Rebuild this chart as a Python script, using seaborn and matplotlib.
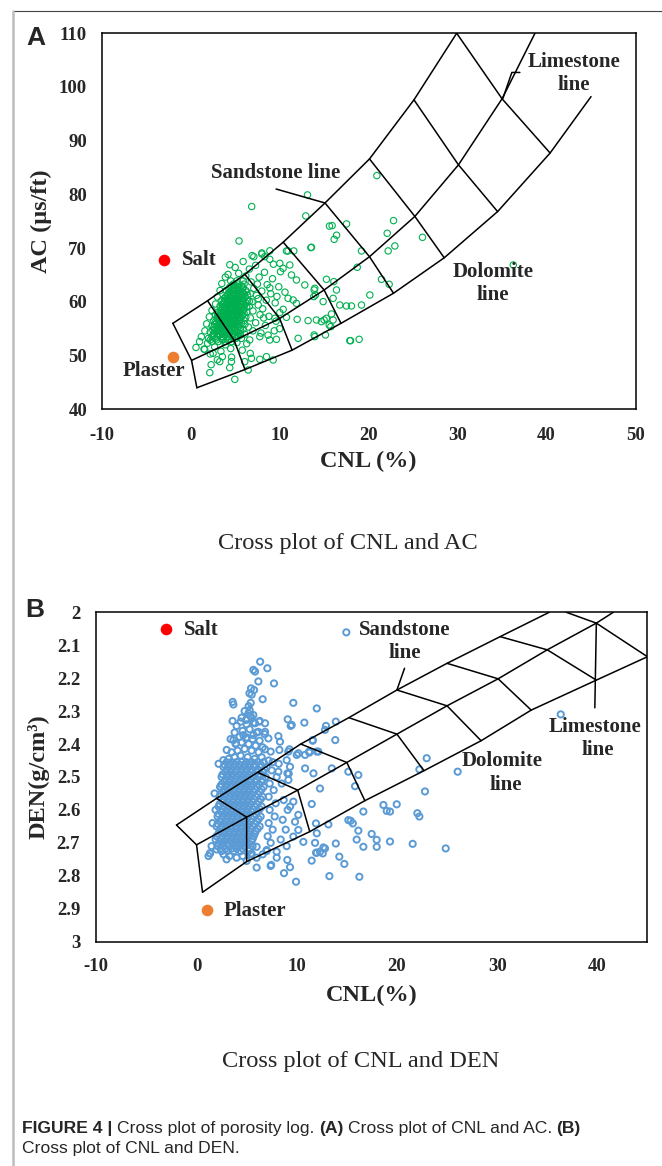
import matplotlib
matplotlib.use('Agg')
import matplotlib.pyplot as plt
from matplotlib.markers import MarkerStyle
from matplotlib.lines import Line2D
import seaborn as sns
import pandas as pd

# ---------------- panel A : CNL vs AC ----------------
# framework lines (x = CNL, y = AC), one point per 5 % porosity step
sand_a_x = [-2.0, 1.9, 6.1, 10.4, 15.1, 20.1, 25.1, 29.9]
sand_a_y = [56.0, 60.2, 65.1, 71.1, 78.4, 86.6, 97.6, 110.0]
lime_a_x = [0.1, 4.9, 10.0, 15.0, 20.1, 25.2, 30.1, 35.0, 38.7]
lime_a_y = [49.1, 52.8, 56.9, 62.2, 68.4, 75.9, 85.5, 97.8, 110.0]
dolo_a_x = [0.7, 6.1, 11.4, 16.9, 22.8, 28.5, 34.5, 40.4, 45.0]
dolo_a_y = [44.0, 47.4, 51.0, 56.0, 61.6, 68.2, 76.8, 87.7, 98.2]

# dense core of the green cloud: (AC, [CNL values])
ac_core_rows = [
    (52.6, [2.4, 3.1, 3.9, 4.6]),
    (52.9, [2.2, 2.9, 3.6, 4.2]),
    (53.2, [2.0, 2.8, 3.5, 4.3, 5.1]),
    (53.5, [2.4, 3.0, 3.6, 4.1, 4.7, 5.3]),
    (53.8, [2.5, 3.2, 3.8, 4.4, 5.0, 5.6]),
    (54.1, [2.6, 3.1, 3.6, 4.2, 4.8, 5.4]),
    (54.4, [2.2, 2.9, 3.4, 3.9, 4.5, 5.2]),
    (54.7, [2.5, 3.0, 3.5, 4.0, 4.4, 5.0, 5.6]),
    (54.9, [2.7, 3.2, 3.7, 4.1, 4.6, 5.3, 5.9]),
    (55.2, [2.6, 3.1, 3.5, 3.9, 4.4, 4.9, 5.6]),
    (55.5, [2.4, 3.0, 3.5, 3.9, 4.3, 4.8, 5.4]),
    (55.8, [2.7, 3.2, 3.6, 4.1, 4.5, 4.8, 5.3, 6.1]),
    (56.0, [2.9, 3.3, 3.8, 4.2, 4.6, 5.0, 5.7]),
    (56.3, [2.8, 3.4, 3.8, 4.2, 4.6, 5.1, 5.5]),
    (56.5, [2.6, 3.2, 3.6, 4.0, 4.4, 4.8, 5.3, 6.0]),
    (56.8, [3.0, 3.4, 3.8, 4.2, 4.6, 5.1, 5.6]),
    (57.1, [3.0, 3.5, 3.9, 4.3, 4.7, 5.1, 5.5, 6.2]),
    (57.4, [3.2, 3.7, 4.1, 4.5, 4.9, 5.3, 5.8]),
    (57.6, [2.8, 3.3, 3.7, 4.1, 4.5, 4.9, 5.3, 5.8]),
    (57.9, [3.0, 3.5, 3.9, 4.3, 4.7, 5.1, 5.5, 6.0]),
    (58.1, [3.1, 3.6, 4.0, 4.4, 4.8, 5.2, 5.6, 6.3]),
    (58.4, [3.4, 3.8, 4.2, 4.6, 5.0, 5.4, 5.9]),
    (58.7, [3.5, 3.9, 4.3, 4.7, 5.1, 5.5, 6.0]),
    (59.0, [3.6, 4.0, 4.4, 4.8, 5.3, 5.7, 6.3]),
    (59.2, [3.3, 3.8, 4.2, 4.6, 5.0, 5.4, 5.9, 6.6]),
    (59.5, [3.6, 4.0, 4.4, 4.8, 5.2, 5.6, 6.1]),
    (59.8, [3.7, 4.1, 4.5, 4.9, 5.3, 5.7, 6.2]),
    (60.1, [3.8, 4.3, 4.7, 5.1, 5.5, 5.9, 6.6]),
    (60.3, [3.5, 4.0, 4.4, 4.8, 5.2, 5.7, 6.4]),
    (60.6, [3.8, 4.2, 4.6, 5.0, 5.4, 5.9]),
    (60.9, [3.9, 4.4, 4.8, 5.2, 5.6, 6.1]),
    (61.2, [4.1, 4.6, 5.0, 5.4, 5.8, 6.4]),
    (61.5, [4.2, 4.7, 5.1, 5.5, 6.0, 6.7]),
    (61.8, [4.4, 4.9, 5.3, 5.8, 6.3]),
    (62.1, [4.0, 4.6, 5.0, 5.5, 6.2]),
    (62.4, [4.3, 4.8, 5.3, 5.8]),
    (62.7, [4.4, 4.9, 5.4, 5.9]),
    (63.0, [4.6, 5.1, 5.7]),
    (63.3, [4.8, 5.3, 6.0]),
    (63.9, [4.5, 5.2, 5.9]),
]

# looser points around the core
ac_halo = [
    (1.5, 51.2), (1.9, 52.3), (2.2, 50.3), (2.7, 51.6), (3.4, 50.8), (3.9, 52.0),
    (4.5, 51.3), (5.2, 52.4), (5.8, 51.0), (6.3, 52.2), (1.2, 53.5), (1.6, 54.6),
    (1.8, 55.9), (2.1, 57.2), (2.4, 58.4), (2.8, 59.6), (3.0, 60.9), (3.3, 62.1),
    (3.5, 63.4), (3.9, 64.6), (4.2, 65.1), (5.4, 65.3), (6.2, 64.8), (6.8, 63.7),
    (7.1, 62.5), (7.4, 61.2), (6.9, 60.0), (7.6, 59.4), (7.0, 58.3), (7.8, 57.6),
    (6.7, 57.0), (7.3, 56.1), (6.5, 55.3), (7.0, 54.6), (6.1, 54.0), (5.7, 53.2),
    (8.1, 58.7), (8.5, 60.3), (8.0, 62.0), (8.6, 63.2), (7.7, 64.6), (6.6, 66.1),
    (7.3, 66.8), (8.3, 65.5), (9.2, 64.3), (9.0, 61.5), (9.5, 59.8), (8.8, 57.3),
    (9.6, 56.4), (8.4, 55.6), (7.9, 54.2), (8.7, 53.8), (5.0, 66.4), (4.4, 66.9),
    (5.9, 67.5), (6.9, 68.6), (8.0, 68.9), (9.3, 67.0), (10.1, 65.6), (9.9, 62.8),
    (10.6, 61.8), (10.4, 58.6), (10.0, 55.0), (9.4, 54.6), (1.0, 52.6), (0.6, 51.5),
    (3.0, 49.2), (2.3, 48.3), (4.6, 49.7), (6.7, 50.4), (7.1, 68.4), (8.0, 69.1),
    (8.9, 69.5), (7.5, 63.3), (8.9, 62.6), (9.7, 61.0), (7.6, 60.6), (8.2, 57.0),
]

# isolated points
ac_sparse = [
    (5.44, 71.33), (16.13, 71.64), (13.58, 70.15), (10.95, 69.47), (8.33, 68.41),
    (8.89, 67.92), (10.02, 67.17), (11.14, 66.86), (10.39, 66.24), (11.33, 65.0),
    (11.89, 64.07), (12.83, 63.14), (13.95, 62.52), (15.26, 64.19), (16.09, 63.76),
    (16.39, 62.21), (13.84, 60.97), (14.89, 60.04), (16.01, 60.65), (11.52, 60.34),
    (11.89, 59.72), (10.95, 60.65), (20.14, 61.27), (19.2, 59.41), (16.76, 59.41),
    (17.51, 59.23), (18.07, 59.23), (14.14, 56.62), (13.2, 56.5), (15.26, 56.93),
    (16.01, 56.62), (11.97, 56.74), (10.02, 57.99), (10.77, 57.12), (9.46, 56.93),
    (12.08, 53.21), (9.64, 53.02), (8.89, 52.9), (7.77, 53.52), (6.64, 52.9),
    (17.89, 52.77), (18.94, 53.02), (13.95, 53.52), (2.15, 46.81), (4.39, 47.74),
    (4.96, 45.57), (6.46, 47.31), (7.77, 49.3), (8.52, 49.79), (9.27, 49.17),
    (1.58, 51.16), (2.52, 50.41), (3.57, 49.79), (3.27, 48.86), (4.58, 48.86),
    (6.08, 48.86), (6.83, 49.48), (13.13, 79.9), (12.94, 75.99), (15.9, 74.19),
    (17.52, 74.5), (22.8, 75.12), (22.09, 72.76), (22.2, 69.47), (22.95, 70.4),
    (26.06, 72.01), (13.51, 70.09), (19.2, 69.47), (18.72, 66.43), (21.45, 64.19),
    (22.31, 63.26), (15.83, 57.74), (15.0, 56.62), (13.88, 62.21), (14.03, 61.27),
    (14.7, 56.31), (15.57, 55.69), (13.88, 53.83), (15.15, 53.83), (15.75, 55.38),
    (17.97, 52.77), (36.26, 66.86), (10.77, 69.47), (11.59, 69.47), (20.93, 83.5),
    (6.86, 77.74), (15.6, 74.1), (16.4, 72.4),
]

# ---------------- panel B : CNL vs DEN ----------------
sand_b_x = [-2.0, 2.0, 6.1, 10.4, 15.2, 20.0, 25.0, 30.3, 35.2]
sand_b_y = [2.646, 2.565, 2.486, 2.400, 2.320, 2.236, 2.155, 2.074, 2.000]
lime_b_x = [0.0, 5.0, 10.1, 15.0, 20.0, 25.0, 30.1, 35.0, 39.9, 41.6]
lime_b_y = [2.706, 2.622, 2.540, 2.456, 2.370, 2.284, 2.202, 2.114, 2.033, 2.000]
dolo_b_x = [0.6, 5.0, 11.3, 16.8, 22.7, 28.4, 33.4, 39.9, 45.0]
dolo_b_y = [2.850, 2.757, 2.666, 2.572, 2.481, 2.390, 2.297, 2.206, 2.135]
# last porosity step starts above the top edge
sand_b_edge = (36.9, 2.000)

den_core_rows = [
    (2.455, [3.0, 3.5, 4.0, 4.5, 5.0, 5.5, 6.1, 6.7]),
    (2.4625, [2.8, 3.3, 3.8, 4.3, 4.8, 5.3, 5.8, 6.4]),
    (2.470, [2.7, 3.2, 3.7, 4.2, 4.7, 5.2, 5.8, 6.4, 7.0]),
    (2.4775, [3.0, 3.5, 4.0, 4.5, 5.0, 5.5, 6.1, 6.8]),
    (2.485, [2.9, 3.4, 3.9, 4.4, 4.9, 5.4, 6.0, 6.6]),
    (2.4925, [2.6, 3.1, 3.6, 4.2, 4.7, 5.2, 5.7, 6.3]),
    (2.500, [2.5, 3.0, 3.5, 4.0, 4.5, 5.0, 5.6, 6.2, 6.9]),
    (2.5075, [2.9, 3.4, 3.9, 4.4, 4.9, 5.4, 6.0, 6.6]),
    (2.515, [2.8, 3.3, 3.8, 4.3, 4.8, 5.3, 5.9, 6.5]),
    (2.5225, [2.5, 3.0, 3.6, 4.1, 4.6, 5.1, 5.6, 6.2]),
    (2.530, [2.4, 2.9, 3.4, 3.9, 4.4, 4.9, 5.4, 6.0, 6.7]),
    (2.5375, [2.8, 3.3, 3.8, 4.3, 4.8, 5.3, 5.8, 6.5]),
    (2.545, [2.7, 3.2, 3.7, 4.2, 4.7, 5.2, 5.7, 6.3]),
    (2.5525, [2.4, 2.9, 3.5, 4.0, 4.5, 5.0, 5.5, 6.1]),
    (2.560, [2.3, 2.8, 3.3, 3.8, 4.3, 4.8, 5.3, 5.9, 6.6]),
    (2.5675, [2.7, 3.2, 3.7, 4.2, 4.7, 5.2, 5.7, 6.4]),
    (2.575, [2.6, 3.1, 3.6, 4.1, 4.6, 5.1, 5.6, 6.2]),
    (2.5825, [2.3, 2.9, 3.4, 3.9, 4.4, 4.9, 5.4, 6.0]),
    (2.590, [2.2, 2.7, 3.2, 3.7, 4.2, 4.7, 5.2, 5.8, 6.5]),
    (2.5975, [2.6, 3.1, 3.6, 4.1, 4.6, 5.1, 5.6, 6.3]),
    (2.605, [2.5, 3.0, 3.5, 4.0, 4.5, 5.0, 5.5, 6.1]),
    (2.6125, [2.2, 2.8, 3.3, 3.8, 4.3, 4.8, 5.3, 5.9]),
    (2.620, [2.1, 2.6, 3.1, 3.6, 4.1, 4.6, 5.1, 5.7, 6.4]),
    (2.6275, [2.5, 3.0, 3.5, 4.0, 4.5, 5.0, 5.5, 6.2]),
    (2.635, [2.4, 2.9, 3.4, 3.9, 4.4, 4.9, 5.4, 6.0]),
    (2.6425, [2.1, 2.7, 3.2, 3.7, 4.2, 4.7, 5.2, 5.8]),
    (2.650, [2.0, 2.5, 3.0, 3.5, 4.0, 4.5, 5.0, 5.6, 6.3]),
    (2.6575, [2.4, 2.9, 3.4, 3.9, 4.4, 4.9, 5.4, 6.1]),
    (2.665, [2.3, 2.8, 3.3, 3.8, 4.3, 4.8, 5.3, 5.9]),
    (2.6725, [2.2, 2.7, 3.2, 3.7, 4.2, 4.7, 5.2, 5.8]),
    (2.680, [2.0, 2.6, 3.1, 3.6, 4.1, 4.6, 5.1, 5.7]),
    (2.6875, [2.5, 3.0, 3.5, 4.0, 4.5, 5.0, 5.6]),
    (2.695, [2.3, 2.8, 3.4, 3.9, 4.4, 4.9, 5.5]),
    (2.7025, [2.2, 2.6, 3.1, 3.6, 4.1, 4.6, 5.2]),
    (2.710, [2.1, 2.7, 3.2, 3.8, 4.3, 4.9, 5.6]),
    (2.7175, [2.4, 2.9, 3.5, 4.0, 4.6, 5.3]),
    (2.725, [2.5, 3.1, 3.7, 4.4, 5.2]),
]

den_column = [
    (3.2, 2.445), (3.8, 2.44), (4.4, 2.435), (5.1, 2.44), (5.8, 2.445), (6.5, 2.44),
    (7.2, 2.45), (3.5, 2.425), (4.1, 2.42), (4.8, 2.415), (5.5, 2.42), (6.2, 2.425),
    (3.9, 2.40), (4.5, 2.395), (5.2, 2.40), (5.9, 2.405), (6.6, 2.41), (3.4, 2.385),
    (4.3, 2.378), (5.0, 2.38), (5.6, 2.385), (6.3, 2.39), (3.8, 2.365), (4.6, 2.36),
    (5.3, 2.355), (6.0, 2.365), (6.8, 2.37), (4.0, 2.345), (5.0, 2.34), (5.7, 2.335),
    (3.6, 2.33), (4.5, 2.32), (5.4, 2.315), (6.3, 2.33), (4.8, 2.30), (5.3, 2.297),
    (5.2, 2.285), (3.68, 2.28), (3.61, 2.272), (5.5, 2.25), (5.28, 2.246), (5.74, 2.236),
    (5.44, 2.231), (6.17, 2.21), (5.67, 2.175), (5.84, 2.18), (7.07, 2.17), (6.35, 2.15),
    (6.6, 2.264), (7.73, 2.216), (5.41, 2.275), (5.18, 2.307), (5.67, 2.312), (5.5, 2.322),
]

den_sparse = [
    (1.8, 2.55), (1.9, 2.6), (1.6, 2.64), (1.9, 2.69), (1.5, 2.71), (1.35, 2.732),
    (2.0, 2.72), (1.2, 2.74), (2.7, 2.735), (3.3, 2.74), (4.0, 2.745), (4.6, 2.74),
    (5.4, 2.735), (6.0, 2.745), (6.6, 2.735), (7.0, 2.725), (7.4, 2.70), (7.1, 2.68),
    (7.6, 2.66), (7.2, 2.64), (7.8, 2.62), (7.3, 2.60), (7.9, 2.58), (7.2, 2.56),
    (7.7, 2.54), (7.3, 2.52), (8.0, 2.50), (7.5, 2.48), (8.2, 2.46), (7.6, 2.455),
    (8.6, 2.63), (8.9, 2.66), (8.4, 2.69), (9.0, 2.71), (8.7, 2.57), (9.1, 2.6),
    (8.5, 2.52), (9.2, 2.49), (3.0, 2.75), (5.0, 2.755), (6.0, 2.775), (7.4, 2.77),
    (8.0, 2.745), (9.83, 2.636), (10.16, 2.661), (9.66, 2.681), (10.66, 2.697),
    (9.66, 2.575), (9.33, 2.59), (9.07, 2.489), (9.17, 2.509), (8.17, 2.484),
    (9.33, 2.469), (9.0, 2.449), (6.84, 2.416), (7.4, 2.423), (8.27, 2.418),
    (9.27, 2.416), (3.01, 2.418), (2.68, 2.449), (2.35, 2.53), (10.0, 2.433),
    (10.83, 2.433), (11.23, 2.423), (12.0, 2.423), (11.6, 2.388), (13.85, 2.388),
    (3.68, 2.388), (3.94, 2.398), (4.94, 2.383), (7.17, 2.383), (8.17, 2.376),
    (8.33, 2.393), (4.67, 2.373), (5.67, 2.373), (6.17, 2.363), (6.84, 2.363),
    (12.92, 2.345), (13.9, 2.332), (12.82, 2.357), (4.41, 2.332), (4.94, 2.327),
    (5.84, 2.337), (6.27, 2.332), (6.84, 2.337), (9.1, 2.325), (10.76, 2.335),
    (9.4, 2.345), (9.66, 2.275), (12.0, 2.292), (10.83, 2.474), (11.67, 2.489),
    (13.5, 2.474), (15.15, 2.484), (12.32, 2.535), (16.15, 2.494), (15.82, 2.528),
    (11.5, 2.582), (16.65, 2.605), (15.15, 2.631), (15.6, 2.641), (16.15, 2.663),
    (15.98, 2.69), (5.5, 2.732), (6.0, 2.712), (7.0, 2.722), (8.0, 2.727),
    (11.92, 2.641), (13.16, 2.644), (12.0, 2.671), (11.83, 2.7), (12.0, 2.73),
    (12.82, 2.717), (13.9, 2.702), (12.6, 2.732), (16.65, 2.712), (9.5, 2.342),
    (11.59, 2.39), (10.16, 2.428), (11.26, 2.426), (12.16, 2.423), (9.16, 2.423),
    (22.97, 2.443), (22.24, 2.477), (22.8, 2.544), (26.06, 2.484), (18.65, 2.585),
    (19.98, 2.583), (18.98, 2.603), (19.31, 2.605), (22.04, 2.61), (22.24, 2.62),
    (15.38, 2.633), (17.48, 2.673), (17.98, 2.691), (17.98, 2.712), (19.31, 2.696),
    (21.57, 2.703), (24.87, 2.717), (12.32, 2.727), (11.93, 2.73), (12.66, 2.714),
    (14.25, 2.742), (14.75, 2.764), (13.26, 2.801), (16.25, 2.803), (11.49, 2.754),
    (9.93, 2.818), (9.33, 2.774), (8.73, 2.792), (9.06, 2.752), (7.45, 2.767),
    (10.16, 2.615), (14.95, 2.061), (36.35, 2.31), (1.34, 2.732), (2.2, 2.46),
]

salt_a, plaster_a = (-3.0, 67.8), (-2.0, 49.8)
salt_b, plaster_b = (-3.0, 2.052), (1.0, 2.904)

green = '#00b050'
blue = '#5b9bd5'
red = '#ff0000'
orange = '#ed7d31'


def rows_to_frame(rows, extra):
    xs, ys = [], []
    for yv, xlist in rows:
        for xv in xlist:
            xs.append(xv)
            ys.append(yv)
    for extra_pts in extra:
        for xv, yv in extra_pts:
            xs.append(xv)
            ys.append(yv)
    return pd.DataFrame({'CNL': xs, 'val': ys})


df_a = rows_to_frame(ac_core_rows, [ac_halo, ac_sparse])
df_b = rows_to_frame(den_core_rows, [den_column, den_sparse])

sns.set_style('white')
plt.rcParams['font.family'] = ['Liberation Serif', 'DejaVu Serif']
plt.rcParams['axes.edgecolor'] = 'black'
plt.rcParams['axes.linewidth'] = 1.1

fig = plt.figure(figsize=(6.62, 11.66), dpi=100)
ax_a = fig.add_axes([0.1536, 0.649, 0.8064, 0.3225])
ax_b = fig.add_axes([0.1455, 0.1924, 0.8325, 0.2825])

ring = MarkerStyle('o', fillstyle='none')
tick_font = {'fontsize': 13.5, 'fontweight': 'bold'}
note_font = {'fontsize': 15, 'fontweight': 'bold', 'ha': 'center', 'va': 'center'}


def draw_frame(ax, sand_x, sand_y, lime_x, lime_y, dolo_x, dolo_y, n_cross):
    for xs, ys in [(sand_x, sand_y), (lime_x, lime_y), (dolo_x, dolo_y)]:
        ax.plot(xs, ys, color='black', lw=1.1, zorder=3, clip_on=True)
    for i in range(n_cross):
        ax.plot([sand_x[i], lime_x[i], dolo_x[i]], [sand_y[i], lime_y[i], dolo_y[i]],
                color='black', lw=1.1, zorder=3)


# ---- panel A ----
sns.scatterplot(data=df_a, x='CNL', y='val', ax=ax_a, marker=ring, color=green,
                s=21, linewidth=0.8, zorder=2, legend=False)
draw_frame(ax_a, sand_a_x, sand_a_y, lime_a_x, lime_a_y, dolo_a_x, dolo_a_y, 8)
ax_a.plot([9.6, 15.1], [81.0, 78.4], color='black', lw=1.1, zorder=3)
ax_a.plot([37.0, 36.1, 35.1], [102.7, 102.7, 97.9], color='black', lw=1.1, zorder=3)
sns.scatterplot(x=[salt_a[0]], y=[salt_a[1]], ax=ax_a, color=red, s=70, linewidth=0, zorder=4)
sns.scatterplot(x=[plaster_a[0]], y=[plaster_a[1]], ax=ax_a, color=orange, s=70, linewidth=0, zorder=4)

ax_a.text(9.6, 83.95, 'Sandstone line', **note_font)
ax_a.text(43.1, 104.7, 'Limestone', **note_font)
ax_a.text(43.1, 100.4, 'line', **note_font)
ax_a.text(34.0, 65.6, 'Dolomite', **note_font)
ax_a.text(34.0, 61.3, 'line', **note_font)
ax_a.text(-0.97, 67.8, 'Salt', fontsize=15, fontweight='bold', ha='left', va='center')
ax_a.text(-4.16, 47.2, 'Plaster', **note_font)

ax_a.set_xlim(-10, 50)
ax_a.set_ylim(40, 110)
ax_a.set_xticks(range(-10, 51, 10))
ax_a.set_yticks(range(40, 111, 10))
ax_a.set_xticklabels([str(v) for v in range(-10, 51, 10)], **tick_font)
ax_a.set_yticklabels([str(v) for v in range(40, 111, 10)], **tick_font)
ax_a.tick_params(axis='x', pad=12.5, length=0)
ax_a.tick_params(axis='y', pad=10.5, length=0)
ax_a.set_xlabel('CNL (%)', fontsize=17.5, fontweight='bold')
ax_a.set_ylabel('AC (μs/ft)', fontsize=17.5, fontweight='bold')
ax_a.xaxis.set_label_coords(0.5, -0.140)
ax_a.yaxis.set_label_coords(-0.1137, 0.5)
ax_a.xaxis.label.set_va('center')
ax_a.yaxis.label.set_va('center')

# ---- panel B ----
sns.scatterplot(data=df_b, x='CNL', y='val', ax=ax_b, marker=ring, color=blue,
                s=20, linewidth=1.4, zorder=2, legend=False)
draw_frame(ax_b, sand_b_x, sand_b_y, lime_b_x, lime_b_y, dolo_b_x, dolo_b_y, 8)
ax_b.plot([sand_b_edge[0], lime_b_x[8], dolo_b_x[8]], [sand_b_edge[1], lime_b_y[8], dolo_b_y[8]],
          color='black', lw=1.1, zorder=3)
ax_b.plot([20.0, 20.76], [2.236, 2.17], color='black', lw=1.1, zorder=3)
ax_b.plot([39.9, 39.75], [2.033, 2.29], color='black', lw=1.1, zorder=3)
sns.scatterplot(x=[salt_b[0]], y=[salt_b[1]], ax=ax_b, color=red, s=70, linewidth=0, zorder=4)
sns.scatterplot(x=[plaster_b[0]], y=[plaster_b[1]], ax=ax_b, color=orange, s=70, linewidth=0, zorder=4)

ax_b.text(20.76, 2.054, 'Sandstone', **note_font)
ax_b.text(20.76, 2.124, 'line', **note_font)
ax_b.text(39.81, 2.347, 'Limestone', **note_font)
ax_b.text(40.02, 2.418, 'line', **note_font)
ax_b.text(30.54, 2.453, 'Dolomite', **note_font)
ax_b.text(30.83, 2.524, 'line', **note_font)
ax_b.text(-1.28, 2.054, 'Salt', fontsize=15, fontweight='bold', ha='left', va='center')
ax_b.text(2.73, 2.906, 'Plaster', fontsize=15, fontweight='bold', ha='left', va='center')

ax_b.set_xlim(-10, 45)
ax_b.set_ylim(3, 2)
den_ticks = [2.0, 2.1, 2.2, 2.3, 2.4, 2.5, 2.6, 2.7, 2.8, 2.9, 3.0]
ax_b.set_xticks(range(-10, 41, 10))
ax_b.set_yticks(den_ticks)
ax_b.set_xticklabels([str(v) for v in range(-10, 41, 10)], **tick_font)
ax_b.set_yticklabels([f'{v:g}' for v in den_ticks], **tick_font)
ax_b.tick_params(axis='x', pad=11.7, length=0)
ax_b.tick_params(axis='y', pad=11.6, length=0)
ax_b.set_xlabel('CNL(%)', fontsize=17.5, fontweight='bold')
ax_b.set_ylabel('DEN(g/cm³)', fontsize=17.5, fontweight='bold')
ax_b.xaxis.set_label_coords(0.5, -0.1648)
ax_b.yaxis.set_label_coords(-0.104, 0.5)
ax_b.xaxis.label.set_va('center')
ax_b.yaxis.label.set_va('center')

# ---- page decoration and captions ----
fig.add_artist(Line2D([0.0192, 1.0], [0.9908, 0.9908], color='#444444', lw=0.8,
                      transform=fig.transFigure))
fig.add_artist(Line2D([0.0192, 0.0192], [0.0, 0.9908], color='#bdbdbd', lw=1.8,
                      transform=fig.transFigure))

sans = ['Liberation Sans', 'DejaVu Sans']
fig.text(36 / 662, 1 - 38 / 1166, 'A', family=sans, fontsize=19, fontweight='bold',
         ha='center', va='center')
fig.text(35 / 662, 1 - 610 / 1166, 'B', family=sans, fontsize=19, fontweight='bold',
         ha='center', va='center')

fig.text(348 / 662, 1 - 544 / 1166, 'Cross plot of CNL and AC', fontsize=17.6,
         ha='center', va='center')
fig.text(361 / 662, 1 - 1062 / 1166, 'Cross plot of CNL and DEN', fontsize=17.6,
         ha='center', va='center')

cap_size = 12.6
cap_parts = [('FIGURE 4 |', 'bold'), ('Cross plot of porosity log.', 'normal'),
             ('(A)', 'bold'), ('Cross plot of CNL and AC.', 'normal'), ('(B)', 'bold')]
renderer = fig.canvas.get_renderer()
xpos = 22 / 662
gap = cap_size * 0.26 / 0.72 / 662
for txt, wt in cap_parts:
    t = fig.text(xpos, 1 - 1128 / 1166, txt, family=sans, fontsize=cap_size,
                 fontweight=wt, ha='left', va='center')
    bb = t.get_window_extent(renderer)
    xpos = bb.x1 / fig.bbox.width + gap
fig.text(22 / 662, 1 - 1148 / 1166, 'Cross plot of CNL and DEN.', family=sans,
         fontsize=cap_size, ha='left', va='center')

fig.savefig('out.png', dpi=100)
